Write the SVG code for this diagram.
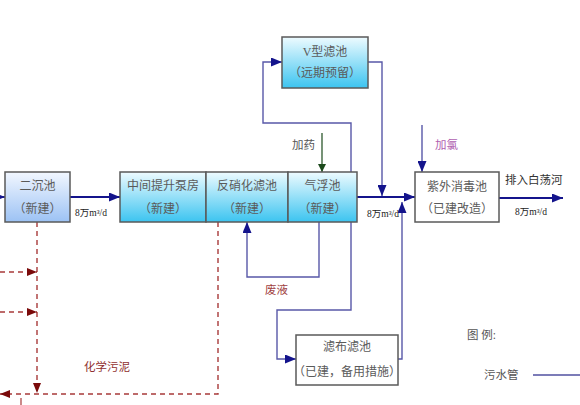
<svg xmlns="http://www.w3.org/2000/svg" width="580" height="405" viewBox="0 0 580 405">
<defs>
<linearGradient id="gBlue" x1="0" y1="0" x2="0" y2="1">
<stop offset="0" stop-color="#f2f7ff"/><stop offset="1" stop-color="#9cc2f4"/>
</linearGradient>
<linearGradient id="gCyan" x1="0" y1="0" x2="0" y2="1">
<stop offset="0" stop-color="#eefbff"/><stop offset="1" stop-color="#3cc4f0"/>
</linearGradient>
<marker id="aN" markerWidth="11" markerHeight="9" refX="11" refY="4.5" orient="auto" markerUnits="userSpaceOnUse">
<path d="M0,0 L11,4.5 L0,9 Z" fill="#14148c"/>
</marker>
<marker id="aG" markerWidth="8" markerHeight="8" refX="8" refY="4" orient="auto" markerUnits="userSpaceOnUse">
<path d="M0,0 L8,4 L0,8 Z" fill="#1c4a1c"/>
</marker>
<marker id="aR" markerWidth="10" markerHeight="8" refX="10" refY="4" orient="auto" markerUnits="userSpaceOnUse">
<path d="M0,0 L10,4 L0,8 Z" fill="#7a0a0a"/>
</marker>
</defs>
<style>
.box{stroke:#5a5a5a;stroke-width:1.5}
.t{font-family:"Liberation Serif","Noto Sans CJK SC",serif;font-size:12px;fill:#5a5a5a;text-anchor:middle}
.q{font-family:"Liberation Serif","Noto Sans CJK SC",serif;font-size:9.5px;fill:#222;text-anchor:middle}
.lab{font-family:"Liberation Serif","Noto Sans CJK SC",serif;font-size:11.5px}
.main{fill:none;stroke:#14148c;stroke-width:1.8}
.pipe{fill:none;stroke:#5858a8;stroke-width:1.4}
.sl{fill:none;stroke:#a83a3a;stroke-width:1.4;stroke-dasharray:5,4}
</style>
<g id="connectors">
<line class="main" x1="-10" y1="197" x2="5" y2="197" marker-end="url(#aN)"/>
<line class="main" x1="70" y1="197" x2="120" y2="197" marker-end="url(#aN)"/>
<line class="main" x1="357" y1="197" x2="415" y2="197" marker-end="url(#aN)"/>
<line class="main" x1="499" y1="198" x2="563" y2="198" marker-end="url(#aN)"/>
<line class="pipe" x1="422" y1="125" x2="422" y2="172" marker-end="url(#aN)"/>
<line x1="322" y1="133" x2="322" y2="172" stroke="#1c4a1c" stroke-width="1.2" marker-end="url(#aG)"/>
<polyline class="pipe" points="351,172 351,123 263,123 263,62 282,62" marker-end="url(#aN)"/>
<polyline class="pipe" points="368,62 382,62 382,196" marker-end="url(#aN)"/>
<polyline class="pipe" points="319,222 319,277 247,277 247,222" marker-end="url(#aN)"/>
<polyline class="pipe" points="351,222 351,310 277,310 277,359 296,359" marker-end="url(#aN)"/>
<polyline class="pipe" points="398,359 402,359 402,202" marker-end="url(#aN)"/>
<line class="sl" x1="37" y1="222" x2="37" y2="393" marker-end="url(#aR)"/>
<line class="sl" x1="0" y1="272" x2="37" y2="272" marker-end="url(#aR)"/>
<line class="sl" x1="0" y1="312" x2="37" y2="312" marker-end="url(#aR)"/>
<polyline class="sl" points="218,222 218,394 0,394" marker-end="url(#aR)"/>
<line x1="21" y1="398" x2="21" y2="405" stroke="#a83a3a" stroke-width="1.2"/>
</g>
<g id="n-erchen">
<rect class="box" x="5" y="172" width="65" height="50" fill="url(#gBlue)"/>
<text class="t" x="37.5" y="190">二沉池</text>
<text class="t" x="37.5" y="213">（新建）</text>
</g>
<g id="n-zhongjian">
<rect class="box" x="120" y="172" width="86" height="50" fill="url(#gCyan)"/>
<text class="t" x="163" y="190">中间提升泵房</text>
<text class="t" x="163" y="213">（新建）</text>
</g>
<g id="n-fanxiao">
<rect class="box" x="206" y="172" width="82" height="50" fill="url(#gCyan)"/>
<text class="t" x="247" y="190">反硝化滤池</text>
<text class="t" x="247" y="213">（新建）</text>
</g>
<g id="n-qifu">
<rect class="box" x="288" y="172" width="69" height="50" fill="url(#gCyan)"/>
<text class="t" x="322.5" y="190">气浮池</text>
<text class="t" x="322.5" y="213">（新建）</text>
</g>
<g id="n-vxing">
<rect class="box" x="282" y="37" width="86" height="51" fill="url(#gCyan)"/>
<text class="t" x="325" y="56">V型滤池</text>
<text class="t" x="325" y="77">（远期预留）</text>
</g>
<g id="n-ziwai">
<rect class="box" x="415" y="172" width="84" height="50" fill="#fff"/>
<text class="t" x="457" y="191">紫外消毒池</text>
<text class="t" x="457" y="213">（已建改造）</text>
</g>
<g id="n-lvbu">
<rect class="box" x="296" y="335" width="102" height="50" fill="#fff"/>
<text class="t" x="347" y="351">滤布滤池</text>
<text class="t" x="347" y="376">（已建，备用措施）</text>
</g>
<g id="labels">
<text class="q" x="91" y="216">8万m³/d</text>
<text class="q" x="383" y="217">8万m³/d</text>
<text class="q" x="531" y="215">8万m³/d</text>
<text class="lab" x="292" y="149" fill="#555">加药</text>
<text class="lab" x="435" y="149" fill="#b060b0">加氯</text>
<text class="lab" x="265" y="294" fill="#a04040">废液</text>
<text class="lab" x="84" y="371" fill="#903030">化学污泥</text>
<text class="lab" x="505" y="184" fill="#333" font-size="12.5">排入白荡河</text>
</g>
<g id="legend">
<text class="lab" x="467" y="339" fill="#555" font-size="12">图 例:</text>
<text class="lab" x="484" y="379" fill="#555" font-size="12">污水管</text>
<line x1="533" y1="375" x2="580" y2="375" stroke="#5050a0" stroke-width="1.5"/>
</g>
</svg>
